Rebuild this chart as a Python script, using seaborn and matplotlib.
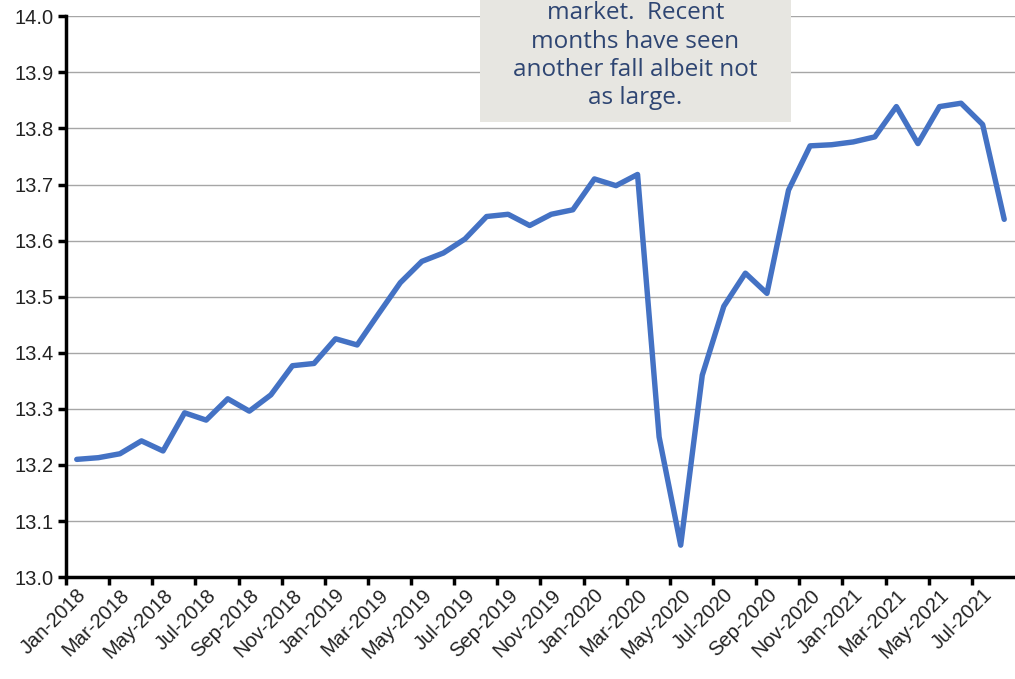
import pandas as pd
import numpy as np
import matplotlib.pyplot as plt
import seaborn as sns
from matplotlib.patches import Rectangle

# Monthly values, Jan-2018 to Aug-2021
months = pd.date_range("2018-01-01", "2021-08-01", freq="MS").strftime("%b-%Y").tolist()
values = [13.210, 13.213, 13.220, 13.243, 13.225, 13.293, 13.280, 13.318,
          13.296, 13.325, 13.377, 13.381, 13.425, 13.414, 13.470, 13.525,
          13.563, 13.578, 13.603, 13.643, 13.647, 13.627, 13.647, 13.655,
          13.710, 13.698, 13.718, 13.250, 13.057, 13.360, 13.483, 13.542,
          13.506, 13.690, 13.769, 13.771, 13.776, 13.785, 13.839, 13.773,
          13.839, 13.845, 13.807, 13.638]
note_lines = ["market.  Recent", "months have seen", "another fall albeit not", "as large."]

df = pd.DataFrame({"Month": months, "Value": values})
df["idx"] = np.arange(len(df))

sns.set_theme(style="white")
plt.rcParams['font.family'] = ['Liberation Sans', 'DejaVu Sans']

fig = plt.figure(figsize=(10.15, 6.79), dpi=100)
ax = fig.add_axes([0.065, 0.150, 0.935, 0.826])

sns.lineplot(data=df, x="idx", y="Value", color="#4472C4", linewidth=3.9, ax=ax)

ax.set_ylim(13.0, 14.0)
ax.set_xlim(-0.5, len(df) - 0.5)
ax.set_yticks(np.arange(13.0, 14.01, 0.1))
ax.set_yticklabels([f"{v:.1f}" for v in np.arange(13.0, 14.01, 0.1)], fontsize=14.5, color="#222222")
ax.yaxis.grid(True, color="#A6A6A6", linewidth=1)
ax.set_axisbelow(True)

# ticks at category boundaries, labels at every other category
ax.set_xticks(np.arange(-0.5, len(df) - 0.5, 2))
ax.set_xticklabels([])
ax.set_xticks(df["idx"][::2], minor=True)
ax.set_xticklabels(df["Month"][::2], minor=True, rotation=45, ha="right",
                   rotation_mode="anchor", fontsize=14.5, color="#222222")
ax.tick_params(axis="x", which="major", direction="out", length=6, width=2.5, color="black", bottom=True)
ax.tick_params(axis="x", which="minor", length=0, pad=6)
ax.tick_params(axis="y", direction="out", length=6, width=2.5, color="black", left=True, pad=3)

ax.set_xlabel("")
ax.set_ylabel("")
for s in ["top", "right"]:
    ax.spines[s].set_visible(False)
for s in ["left", "bottom"]:
    ax.spines[s].set_color("black")
    ax.spines[s].set_linewidth(2.5)

# note box, cut off at the top
fig.patches.append(Rectangle((0.473, 1 - 122 / 679), 0.306, 0.25, transform=fig.transFigure,
                             facecolor="#E7E6E1", edgecolor="none", zorder=3))
for i, line in enumerate(note_lines):
    fig.text(0.626, 1 - (13 + 28.5 * i) / 679, line, ha="center", va="center",
             fontsize=17.5, color="#2E4572", family=["Open Sans", "DejaVu Sans"], zorder=4)

fig.savefig("out.png", dpi=100)
